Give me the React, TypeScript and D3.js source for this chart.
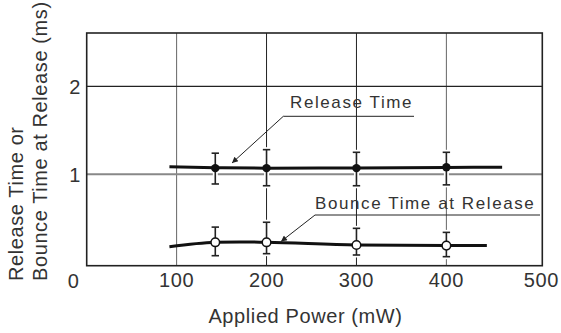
import React from "react";
import * as d3 from "d3";

// applied power (mW) at which the measurements were taken
const powers = [143, 200, 300, 400];

// release time (ms): mean, upper and lower error bar
const releaseMean = [1.07, 1.07, 1.07, 1.08];
const releaseHigh = [1.24, 1.28, 1.25, 1.25];
const releaseLow = [0.89, 0.87, 0.87, 0.88];

// bounce time at release (ms)
const bounceMean = [0.227, 0.227, 0.197, 0.19];
const bounceHigh = [0.4, 0.455, 0.386, 0.34];
const bounceLow = [0.075, 0.098, 0.083, 0.064];

// fitted curves drawn through the points
const releaseCurveX = [92, 143, 200, 300, 400, 462];
const releaseCurveY = [1.085, 1.075, 1.07, 1.073, 1.078, 1.08];
const bounceCurveX = [92, 143, 170, 200, 300, 400, 445];
const bounceCurveY = [0.177, 0.227, 0.232, 0.227, 0.197, 0.19, 0.19];

const xTicks = [0, 100, 200, 300, 400, 500];
const yTicks = [1, 2];
const xGrid = [100, 200, 300, 400];

const font = "'Liberation Sans', Arial, sans-serif";
const ink = "#222";

const App: React.FC = () => {
    const width = 561;
    const height = 333;
    const left = 86.7, right = 542.3, top = 33, bottom = 265.7;

    const x = d3.scaleLinear().domain([0, 500]).range([86.7, 536.3]);
    const y = d3.scaleLinear().domain([0, 1]).range([262.3, 174.3]);

    const line = d3.line<[number, number]>()
        .x(d => x(d[0]))
        .y(d => y(d[1]))
        .curve(d3.curveMonotoneX);

    const releaseCurve = line(releaseCurveX.map((v, i) => [v, releaseCurveY[i]]) as [number, number][]) || "";
    const bounceCurve = line(bounceCurveX.map((v, i) => [v, bounceCurveY[i]]) as [number, number][]) || "";

    const errorBars = (high: number[], low: number[], halo: boolean) =>
        powers.map((p, i) => {
            const cx = x(p);
            const st = halo ? {stroke: "#fff", strokeWidth: 5} : {stroke: ink, strokeWidth: 1.6};
            return <g key={i}>
                <line x1={cx} x2={cx} y1={y(high[i])} y2={y(low[i])} {...st}/>
                <line x1={cx - 3.7} x2={cx + 3.7} y1={y(high[i])} y2={y(high[i])} {...st}/>
                <line x1={cx - 3.7} x2={cx + 3.7} y1={y(low[i])} y2={y(low[i])} {...st}/>
            </g>;
        });

    return <svg width={width} height={height}
                style={{position: "absolute", left: 0, top: 0, background: "#fff"}}>
        <defs>
            <marker id="arrow" viewBox="0 0 10 10" refX="10" refY="5" markerWidth="9" markerHeight="6"
                    orient="auto" markerUnits="userSpaceOnUse">
                <path d="M0,0 L10,5 L0,10 z" fill={ink}/>
            </marker>
        </defs>

        {/* grid */}
        {xGrid.map(v => <line key={v} x1={x(v)} x2={x(v)} y1={top} y2={bottom}
                              stroke={v === 200 || v === 300 ? "#222" : "#666"} strokeWidth={1}/>)}
        {yTicks.map(v => <line key={v} x1={left} x2={right} y1={y(v)} y2={y(v)}
                               stroke={v === 1 ? "#888" : "#222"} strokeWidth={v === 1 ? 2 : 1.2}/>)}
        <rect x={left} y={top} width={right - left} height={bottom - top} fill="none" stroke={ink} strokeWidth={1.6}/>

        {/* halos */}
        {errorBars(releaseHigh, releaseLow, true)}
        {errorBars(bounceHigh, bounceLow, true)}

        {/* curves */}
        <path d={releaseCurve} fill="none" stroke="#111" strokeWidth={3}/>
        <path d={bounceCurve} fill="none" stroke="#111" strokeWidth={3}/>

        {errorBars(releaseHigh, releaseLow, false)}
        {errorBars(bounceHigh, bounceLow, false)}

        {powers.map((p, i) => <circle key={"r" + i} cx={x(p)} cy={y(releaseMean[i])} r={4.2} fill="#111"/>)}
        {powers.map((p, i) => <circle key={"b" + i} cx={x(p)} cy={y(bounceMean[i])} r={4.3}
                                      fill="#fff" stroke="#111" strokeWidth={1.5}/>)}

        {/* annotations */}
        <g fontFamily={font} fontSize={17} fill="#333" letterSpacing={1.6}>
            <text x={290} y={108.3}>Release Time</text>
            <text x={315} y={209}>Bounce Time at Release</text>
        </g>
        <path d="M414,116.3 L283.3,116.3 L232,163" fill="none" stroke={ink} strokeWidth={1}
              markerEnd="url(#arrow)"/>
        <path d="M540,215 L315,215 L281,241.5" fill="none" stroke={ink} strokeWidth={1}
              markerEnd="url(#arrow)"/>

        {/* axes labels */}
        <g fontFamily={font} fontSize={20} fill="#333" letterSpacing={0.6}>
            {xTicks.map(v => {
                const px = v === 0 ? left - 13 : v === 500 ? right - 1 : x(v);
                return <text key={v} x={px} y={v === 0 ? 288.3 : 286.7} textAnchor="middle">{v}</text>;
            })}
            {yTicks.map(v => <text key={v} x={75} y={y(v) + 7.5} textAnchor="middle">{v}</text>)}
            <text x={305.5} y={323.3} textAnchor="middle">Applied Power (mW)</text>
            <text transform="translate(22.7,281) rotate(-90)">Release Time or</text>
            <text transform="translate(46.7,281) rotate(-90)">Bounce Time at Release (ms)</text>
        </g>
    </svg>;
};

export default App;
